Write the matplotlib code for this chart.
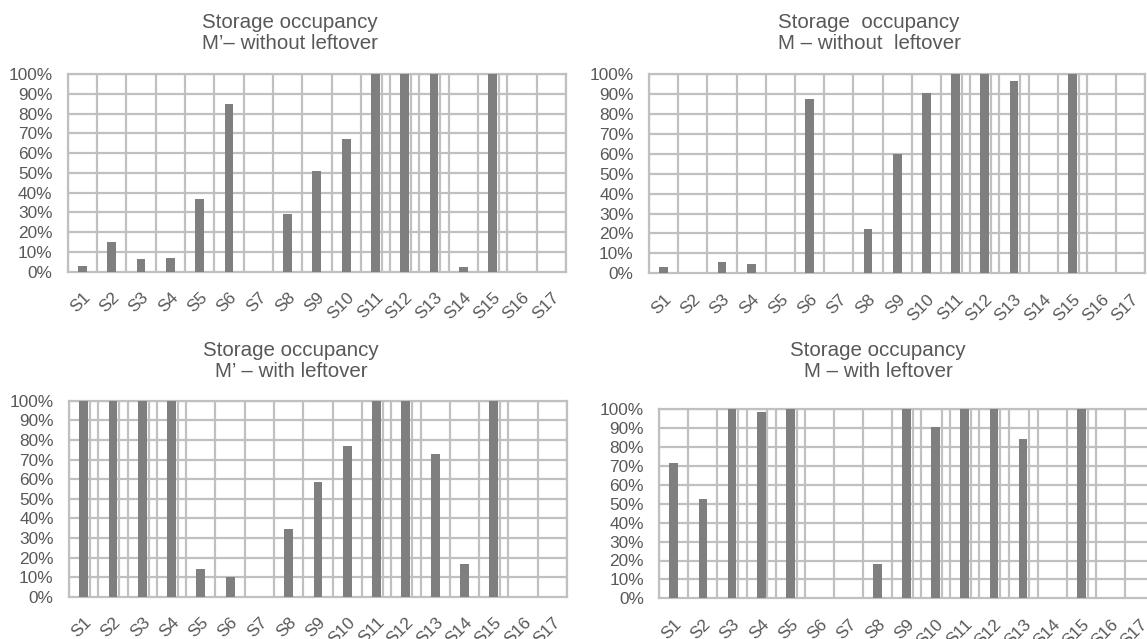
import matplotlib.pyplot as plt
import numpy as np

plt.rcParams['font.family'] = ['Liberation Sans', 'DejaVu Sans']

storages = ["S%d" % i for i in range(1, 18)]

# occupancy in %
mprime_without = [3, 15, 6.4, 6.7, 37, 85, 0, 29, 51, 67, 100, 100, 100, 2.4, 100, 0, 0]
m_without = [3.3, 0, 5.7, 4.5, 0, 87.5, 0, 22, 59.7, 90.6, 100, 100, 96.7, 0, 100, 0, 0]
mprime_with = [100, 100, 100, 100, 14, 10.2, 0, 34.4, 58.3, 77, 100, 100, 72.6, 16.8, 100, 0, 0]
m_with = [71.4, 52.6, 100, 98.4, 100, 0, 0, 18, 100, 90.8, 100, 100, 84.5, 0, 100, 0, 0]

# thin light outline next to some bars (visible as doubled grid lines)
mprime_without_edge = [0, 0, 0, 0, 0, 0, 0, 0, 0, 0, 100, 100, 100, 0, 100, 0, 0]
m_without_edge = [0, 0, 0, 0, 0, 0, 0, 0, 0, 0, 100, 100, 100, 0, 100, 0, 0]
mprime_with_edge = [100, 100, 100, 100, 0, 0, 0, 0, 0, 0, 100, 100, 0, 0, 100, 0, 0]
m_with_edge = [0, 0, 100, 100, 100, 0, 0, 0, 100, 100, 100, 100, 100, 0, 100, 0, 0]

titles = ["Storage occupancy\nM\u2019\u2013 without leftover",
          "Storage  occupancy\nM \u2013 without  leftover",
          "Storage occupancy\nM\u2019 \u2013 with leftover",
          "Storage occupancy\nM \u2013 with leftover"]

BAR = "#7f7f7f"
GRID = "#c0c0c0"
TXT = "#585858"

W, H = 1147, 639
fig = plt.figure(figsize=(W / 100, H / 100), dpi=100)

# axes boxes in pixels: left, top, right, bottom
boxes = [(67.7, 74, 566, 271.7),
         (649, 74, 1145.4, 273.3),
         (69, 400.7, 567, 596.7),
         (659.3, 409.3, 1154, 598.3)]
title_pos = [(289.5, 33), (869, 33), (291, 361), (878, 361)]

panels = [(mprime_without, mprime_without_edge),
          (m_without, m_without_edge),
          (mprime_with, mprime_with_edge),
          (m_with, m_with_edge)]

for (vals, edges), box, title, tpos in zip(panels, boxes, titles, title_pos):
    l, t, r, b = box
    ax = fig.add_axes([l / W, 1 - b / H, (r - l) / W, (b - t) / H])
    x = np.arange(len(storages))
    v = np.array(vals) / 100.0
    e = np.array(edges) / 100.0

    # grid: horizontal every 10 %, vertical on category boundaries
    for yy in np.arange(0.1, 1.01, 0.1):
        ax.axhline(yy, color=GRID, lw=1.6, zorder=1)
    for xx in np.arange(-0.5, len(storages), 1.0):
        ax.axvline(xx, color=GRID, lw=1.6, zorder=1)
    ax.vlines(x[e > 0] + 0.215, 0, e[e > 0], color=GRID, lw=1.6, zorder=1)

    ax.bar(x, v, width=0.3, color=BAR, zorder=3)

    ax.set_xlim(-0.5, len(storages) - 0.5)
    ax.set_ylim(0, 1)
    ax.set_yticks(np.arange(0, 1.01, 0.1))
    ax.set_yticklabels(["%d%%" % p for p in range(0, 101, 10)])
    ax.set_xticks(x)
    ax.set_xticklabels(storages, rotation=45, ha="right", va="top",
                       rotation_mode="anchor")
    ax.tick_params(axis="y", length=0, pad=11, labelsize=12.4, labelcolor=TXT)
    ax.tick_params(axis="x", length=0, pad=13, labelsize=12.4, labelcolor=TXT)
    for s in ax.spines.values():
        s.set_color(GRID)
        s.set_linewidth(1.6)
        s.set_zorder(2)

    fig.text(tpos[0] / W, 1 - tpos[1] / H, title, ha="center", va="center",
             fontsize=14.8, color=TXT, linespacing=1.15)

fig.savefig("out.png", dpi=100)
